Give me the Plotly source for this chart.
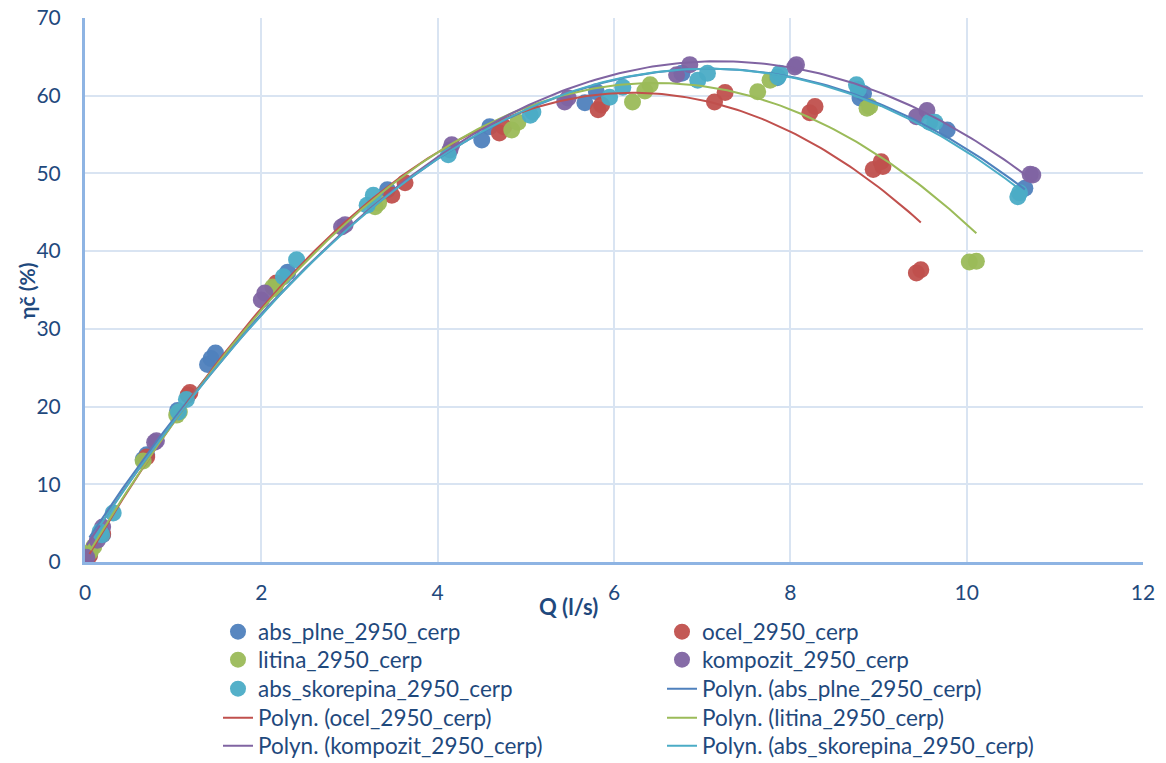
import numpy as np
import plotly.graph_objects as go

# ---- data ----
abs_plne_q = [0.05, 0.20, 0.66, 0.70, 1.05, 1.39, 1.43, 1.48, 2.30, 3.43, 4.50, 4.59, 5.67, 5.80, 6.77, 7.85, 8.79, 8.83, 9.78, 10.66]
abs_plne_eta = [0.9, 3.5, 13.2, 13.8, 19.5, 25.4, 26.2, 26.9, 37.3, 47.9, 54.3, 56.0, 59.1, 60.5, 62.9, 62.3, 59.7, 60.3, 55.6, 48.1]

ocel_q = [0.05, 0.20, 0.70, 1.17, 1.19, 2.17, 3.48, 3.63, 4.70, 4.75, 5.82, 5.86, 7.14, 7.26, 8.22, 8.28, 8.94, 9.03, 9.05, 9.43, 9.48]
ocel_eta = [0.8, 3.6, 13.5, 21.5, 21.8, 35.9, 47.2, 48.8, 55.2, 56.0, 58.2, 58.8, 59.2, 60.4, 57.8, 58.6, 50.5, 51.5, 50.9, 37.2, 37.6]

litina_q = [0.06, 0.10, 0.66, 1.04, 1.07, 2.13, 2.15, 3.29, 3.33, 4.84, 4.91, 6.21, 6.35, 6.41, 7.63, 7.77, 8.87, 8.90, 10.03, 10.11]
litina_eta = [1.3, 2.0, 13.0, 18.9, 19.3, 35.4, 35.2, 45.7, 46.2, 55.6, 56.6, 59.2, 60.6, 61.4, 60.5, 62.0, 58.4, 58.6, 38.6, 38.7]

kompozit_q = [0.02, 0.14, 0.20, 0.79, 0.81, 2.00, 2.04, 2.91, 2.95, 4.14, 4.16, 5.44, 5.48, 6.71, 6.86, 8.05, 8.07, 9.43, 9.55, 10.72, 10.75]
kompozit_eta = [0.6, 2.8, 4.5, 15.4, 15.6, 33.7, 34.6, 43.1, 43.4, 53.0, 53.7, 59.2, 59.7, 62.7, 64.0, 63.7, 64.0, 57.3, 58.1, 49.9, 49.8]

skorepina_q = [0.17, 0.19, 0.32, 1.06, 1.15, 2.25, 2.40, 3.20, 3.27, 4.12, 5.05, 5.08, 5.95, 6.10, 6.95, 7.06, 7.86, 7.88, 8.75, 8.77, 9.58, 9.64, 10.58, 10.60]
skorepina_eta = [3.9, 3.5, 6.3, 19.3, 20.9, 36.7, 38.9, 45.9, 47.2, 52.4, 57.5, 57.9, 59.8, 61.1, 62.0, 62.9, 62.4, 62.9, 61.4, 60.8, 56.6, 56.6, 47.0, 47.5]

series_names = ["abs_plne_2950_cerp", "ocel_2950_cerp", "litina_2950_cerp", "kompozit_2950_cerp", "abs_skorepina_2950_cerp"]
series_q = [abs_plne_q, ocel_q, litina_q, kompozit_q, skorepina_q]
series_eta = [abs_plne_eta, ocel_eta, litina_eta, kompozit_eta, skorepina_eta]
colors = ["#4F81BD", "#C0504D", "#9BBB59", "#8064A2", "#4BACC6"]

x_ticks = [0, 2, 4, 6, 8, 10, 12]
y_ticks = [0, 10, 20, 30, 40, 50, 60, 70]

TXT = "#1F497D"
FONT = "Lato"

# plot area in pixels
W, H = 1166, 763
PL, PR, PT, PB = 85, 1143, 18, 562


def px_x(p):
    return (p - PL) / (PR - PL)


def px_y(p):
    return (PB - p) / (PB - PT)


# legend layout: two columns, row-major order
col_left = [218, 662]
row_y = [632, 660, 689, 718, 746]

fig = go.Figure()
entries = []
for name, q, e, c in zip(series_names, series_q, series_eta, colors):
    entries.append(go.Scatter(
        x=q, y=e, mode="markers", name=name,
        marker=dict(size=17, color=c, opacity=0.95, line=dict(width=0)),
    ))
for name, q, e, c in zip(series_names, series_q, series_eta, colors):
    coef = np.polyfit(q, e, 2)
    xs = np.linspace(min(q), max(q), 200)
    entries.append(go.Scatter(
        x=xs, y=np.polyval(coef, xs), mode="lines", name=f"Polyn. ({name})",
        line=dict(color=c, width=2),
    ))

legends = {}
for k, tr in enumerate(entries):
    lid = "legend" if k == 0 else f"legend{k + 1}"
    tr.legend = lid
    fig.add_trace(tr)
    legends[lid] = dict(
        x=px_x(col_left[k % 2]), xanchor="left",
        y=px_y(row_y[k // 2]), yanchor="middle",
        font=dict(size=22.5, color=TXT, family=FONT),
        bgcolor="rgba(0,0,0,0)", borderwidth=0,
    )

fig.update_layout(
    width=W, height=H,
    margin=dict(l=PL, r=W - PR, t=PT, b=H - PB, autoexpand=False),
    paper_bgcolor="white", plot_bgcolor="white",
    font=dict(family=FONT, color=TXT, size=21),
    showlegend=True,
    xaxis=dict(
        range=[0, 12], tickvals=x_ticks, showgrid=True, gridcolor="#D9E4F2", gridwidth=2,
        showline=True, linecolor="#8EB4E3", linewidth=3, zeroline=False,
        ticks="", ticklabelstandoff=10, tickfont=dict(size=21, color=TXT, family=FONT),
    ),
    yaxis=dict(
        range=[0, 70], tickvals=y_ticks, showgrid=True, gridcolor="#D9E4F2", gridwidth=2,
        showline=True, linecolor="#8EB4E3", linewidth=3, zeroline=False,
        ticks="", ticklabelstandoff=17, tickfont=dict(size=21, color=TXT, family=FONT),
    ),
    annotations=[
        dict(text="<b>Q (l/s)</b>", xref="paper", yref="paper", x=px_x(568), y=px_y(606),
             showarrow=False, xanchor="center", yanchor="middle", font=dict(size=22, color=TXT, family=FONT)),
        dict(text="<b>ηč (%)</b>", xref="paper", yref="paper", x=px_x(26), y=px_y(291),
             showarrow=False, textangle=-90, xanchor="center", yanchor="middle", font=dict(size=21, color=TXT, family=FONT)),
    ],
    **legends,
)

fig.write_html(
    "out.html",
    config={"displayModeBar": False},
    post_script="document.body.style.margin='0';document.body.style.overflow='hidden';",
)
